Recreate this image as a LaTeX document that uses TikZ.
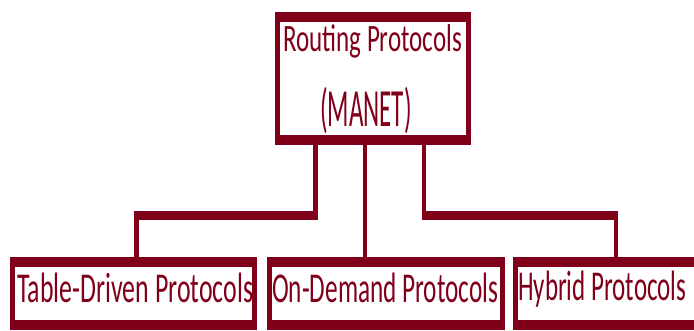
\documentclass[tikz,border=0pt]{standalone}
\usepackage{fontspec}
\setmainfont{Carlito}
\definecolor{mred}{RGB}{128,0,26}
\begin{document}
\begin{tikzpicture}[x=1pt,y=-1pt,
  frame/.style={rectangle,inner sep=0pt,outer sep=0pt,fill=mred,
    path picture={\fill[white] ([xshift=5pt,yshift=-10pt]path picture bounding box.north west)
      rectangle ([xshift=-5pt,yshift=10pt]path picture bounding box.south east);}},
  lbl/.style={anchor=base west,inner sep=0pt,text=mred,font=\fontsize{25pt}{30pt}\selectfont},
  vline/.style={draw=mred,line width=4.5pt},
  hline/.style={draw=mred,line width=9pt}]
\useasboundingbox (0,0) rectangle (694,331);
\clip (0,0) rectangle (694,331);
% boxes
\node[frame,minimum width=196pt,minimum height=133pt] (top) at (373,78.5) {};
\node[frame,minimum width=247pt,minimum height=73pt] (b1) at (133.5,293.5) {};
\node[frame,minimum width=238pt,minimum height=73pt] (b2) at (386,293.5) {};
\node[frame,minimum width=190pt,minimum height=73pt] (b3) at (608,293.5) {};
% texts
\node[lbl] (t1) at (283,52) {\scalebox{1}[1.55]{Routing Protocols}};
\node[lbl] (t2) at (320,127) {\scalebox{1}[2.15]{(MANET)}};
\node[lbl] (t3) at (17,302) {\scalebox{1.035}[1.7]{Table-Driven Protocols}};
\node[lbl] (t4) at (272,302) {\scalebox{1.01}[1.7]{On-Demand Protocols}};
\node[lbl] (t5) at (518,301) {\scalebox{1}[1.7]{Hybrid Protocols}};
% connectors
\coordinate (el1) at (315.5,215.5);
\coordinate (el2) at (136.5,215.5);
\coordinate (er1) at (424,215.5);
\coordinate (er2) at (616,215.5);
\coordinate (em) at (365,200);
\draw[vline] (top.south -| el1) -- (el1);
\draw[hline] ([xshift=2.25pt]el1) -- ([xshift=-2.5pt]el2);
\draw[vline,line width=5pt] (el2) -- (b1.north -| el2);
\draw[vline] (top.south -| em) -- (b2.north -| em);
\draw[vline] (top.south -| er1) -- (er1);
\draw[hline] ([xshift=-2pt]er1) -- ([xshift=2pt]er2);
\draw[vline] (er2) -- (b3.north -| er2);
\end{tikzpicture}
\end{document}
